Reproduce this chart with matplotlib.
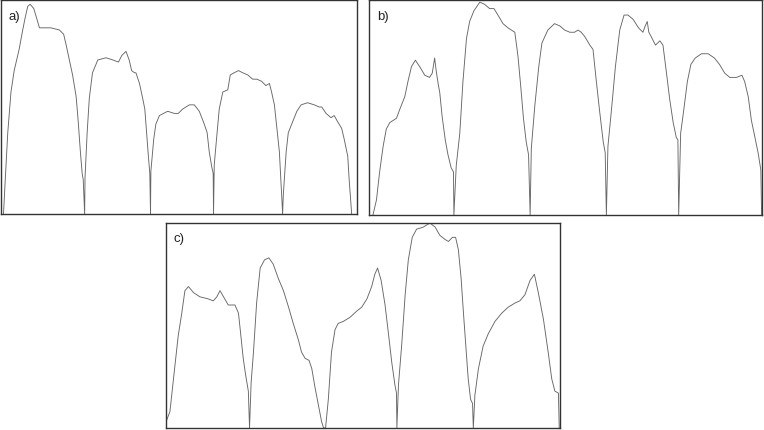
import matplotlib.pyplot as plt
import numpy as np

# Panel a) - time (% of record) and amplitude (% of max)
t_a = [0.7, 1.1, 1.9, 2.8, 3.7, 5.1, 6.1, 6.7, 7.5, 8.2, 9.2, 10.1, 10.8, 12.2, 14.0,
       16.4, 17.6, 18.3, 19.2, 20.1, 21.1, 21.7, 22.3, 22.8, 23.1, 23.5, 23.6,
       24.2, 24.8, 25.7, 27.2, 29.5, 31.4, 33.0, 33.9, 35.1, 36.0, 36.7, 37.5, 37.9,
       38.9, 39.8, 40.4, 40.9, 41.4, 41.8, 42.0, 42.1,
       42.9, 43.5, 44.5, 46.8, 48.7, 49.8, 51.0, 52.9, 54.3, 55.7, 57.1, 57.9, 58.5,
       59.2, 59.6, 59.7, 59.9,
       60.7, 61.3, 62.3, 63.7, 64.4, 65.5, 66.7, 67.9, 69.3, 70.7, 71.9, 73.2, 74.4,
       75.4, 76.0, 76.8, 77.5, 78.2, 78.7, 78.9, 79.1, 79.3,
       80.1, 80.7, 81.9, 83.1, 84.3, 86.1, 88.0, 89.4, 90.1, 91.3, 92.7, 93.6, 94.6,
       95.7, 96.4, 97.4, 97.8, 98.5]
y_a = [0, 13, 38, 57, 67, 77, 86, 91, 97, 98, 96, 91, 87, 87, 87,
       86, 84, 79, 72, 65, 55, 43, 29, 19, 16, 0, 17,
       38, 54, 66, 72, 73, 72, 71, 74, 76, 72, 67, 66, 66,
       61, 54, 49, 38, 27, 19, 0, 20,
       35, 42, 46, 48, 47, 47, 49, 51, 51, 48, 42, 38, 29,
       22, 19, 0, 23,
       38, 49, 57, 58, 65, 66, 67, 66, 65, 63, 63, 62, 60,
       61, 57, 51, 40, 29, 13, 7, 0, 9,
       29, 38, 43, 48, 51, 52, 51, 50, 50, 47, 45, 46, 43,
       40, 35, 27, 16, 0]

# Panel b)
t_b = [1.0, 1.9, 2.7, 3.6, 4.4, 5.3, 7.0, 7.8, 9.1, 9.9, 10.8, 11.8, 12.9, 14.2,
       15.4, 16.1, 16.7, 17.1, 17.6, 18.0, 18.6, 19.4, 20.1, 20.9, 21.5, 21.6,
       22.2, 23.1, 23.9, 24.8, 25.6, 26.7, 28.2, 29.4, 30.7, 31.8, 32.8, 34.1,
       35.4, 37.1, 37.9, 38.6, 39.3, 40.0, 40.6, 41.0,
       41.3, 42.2, 43.2, 44.0, 45.5, 47.2, 48.5, 49.8, 51.1, 52.3, 53.2, 54.0,
       54.9, 56.2, 57.0, 57.8, 58.7, 59.6, 60.1, 60.4,
       60.8, 61.7, 62.7, 63.8, 64.9, 65.9, 67.2, 68.6, 69.7, 70.3, 70.8, 71.2,
       71.8, 72.9, 74.0, 74.8, 75.7, 76.5, 77.4, 78.2, 78.6, 78.8,
       79.3, 80.1, 81.0, 81.9, 83.0, 84.6, 86.3, 87.9, 89.2, 90.5, 91.8, 93.5,
       94.9, 95.6, 96.5, 97.3, 98.1, 99.0, 99.7, 99.9]
y_b = [0, 7, 20, 32, 40, 43, 45, 49, 55, 62, 69, 72, 69, 65,
       64, 66, 73, 67, 61, 57, 46, 35, 28, 22, 20, 0,
       23, 38, 62, 82, 90, 95, 99, 98, 96, 96, 93, 89,
       87, 85, 74, 60, 45, 34, 28, 0,
       31, 51, 69, 80, 86, 89, 88, 86, 85, 85, 86, 85,
       83, 79, 77, 63, 48, 34, 29, 0,
       32, 49, 69, 86, 93, 93, 91, 87, 85, 88, 90, 85,
       83, 79, 81, 79, 66, 54, 43, 36, 35, 0,
       38, 49, 62, 70, 73, 75, 75, 73, 70, 66, 64, 64,
       65, 62, 55, 44, 37, 29, 21, 0]

# Panel c)
t_c = [0.2, 1.0, 1.9, 3.1, 4.0, 4.8, 5.7, 7.0, 8.6, 10.7, 12.0, 12.9, 13.7, 14.6,
       15.8, 17.5, 18.4, 19.0, 19.6, 20.2, 20.9, 21.2,
       21.6, 22.2, 23.0, 23.9, 25.0, 26.1, 27.2, 28.5, 29.8, 31.1, 32.3, 33.6,
       34.4, 35.3, 36.3, 37.0, 37.8, 38.7, 39.5, 40.0, 40.5,
       41.2, 42.0, 42.9, 43.7, 45.0, 46.7, 48.4, 49.7, 51.0, 52.2, 53.0, 53.7,
       54.6, 55.6, 56.4, 57.3, 58.1, 58.5, 58.6,
       59.0, 59.8, 60.7, 61.5, 62.5, 63.6, 65.3, 67.0, 68.3, 69.5, 70.8, 71.7,
       72.7, 73.5, 74.2, 74.9, 75.5, 76.1, 76.7, 77.3, 77.8, 78.0,
       78.4, 79.3, 80.5, 81.8, 83.5, 85.2, 86.9, 88.6, 89.8, 91.1, 92.4, 93.5,
       94.5, 95.8, 97.0, 97.9, 98.7, 99.6, 99.8]
y_c = [4, 8, 24, 45, 56, 67, 69, 66, 64, 63, 62, 64, 67, 64,
       60, 60, 56, 45, 34, 26, 18, 0,
       22, 37, 61, 78, 82, 83, 80, 73, 67, 59, 51, 43,
       37, 34, 33, 29, 20, 11, 3, 0, 0,
       14, 37, 48, 51, 52, 54, 57, 59, 63, 69, 75, 78,
       72, 60, 47, 32, 21, 17, 0,
       21, 40, 65, 82, 93, 97, 98, 100, 98, 94, 92, 91,
       93, 93, 87, 73, 56, 40, 24, 14, 12, 0,
       16, 29, 40, 46, 52, 56, 59, 61, 62, 65, 72, 75,
       66, 53, 37, 24, 18, 17, 0]

panels = [
    ("a)", t_a, y_a, [1 / 764, 216 / 431, 356 / 764, 214 / 431]),
    ("b)", t_b, y_b, [369 / 764, 215 / 431, 393 / 764, 215 / 431]),
    ("c)", t_c, y_c, [166 / 764, 2 / 431, 394 / 764, 205 / 431]),
]

fig = plt.figure(figsize=(7.64, 4.31), dpi=100)
fig.patch.set_facecolor('white')

for label, t, y, rect in panels:
    ax = fig.add_axes(rect)
    ax.plot(t, y, color='#666666', linewidth=0.65, solid_joinstyle='round')
    ax.set_xlim(0, 100)
    ax.set_ylim(0, 100)
    ax.set_xticks([])
    ax.set_yticks([])
    for s in ax.spines.values():
        s.set_color('#333333')
        s.set_linewidth(1.0)
    ax.text(0.02, 0.955, label, transform=ax.transAxes, fontsize=9.5,
            ha='left', va='top', color='#222222', family='Liberation Sans')

fig.savefig('out.png', dpi=100, facecolor='white')
